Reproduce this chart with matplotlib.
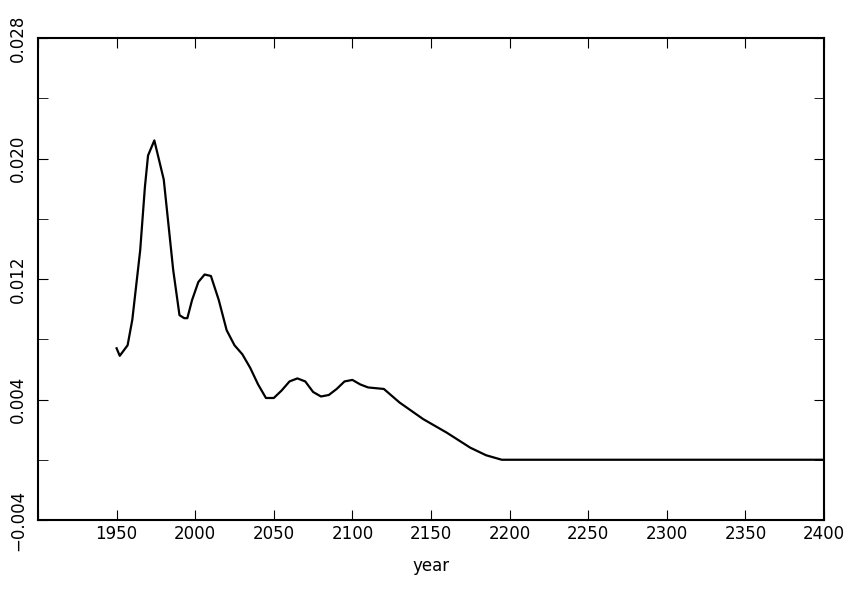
import numpy as np
import matplotlib.pyplot as plt

years = [1950, 1952, 1957, 1960, 1965, 1968, 1970, 1974, 1980, 1983, 1986, 1990, 1993, 1995,
         1998, 2002, 2006, 2010, 2015, 2020, 2025, 2030, 2035, 2040, 2045, 2050, 2055, 2060,
         2065, 2070, 2075, 2080, 2085, 2090, 2095, 2100, 2105, 2110, 2120, 2130, 2145, 2160,
         2175, 2185, 2195, 2400]
rate = [0.0074, 0.0069, 0.0076, 0.0093, 0.0139, 0.0181, 0.0202, 0.0212, 0.0186, 0.0156,
        0.0126, 0.0096, 0.0094, 0.0094, 0.0106, 0.0118, 0.0123, 0.0122, 0.0106, 0.0086,
        0.0076, 0.0070, 0.0061, 0.0050, 0.0041, 0.0041, 0.0046, 0.0052, 0.0054, 0.0052,
        0.0045, 0.0042, 0.0043, 0.0047, 0.0052, 0.0053, 0.0050, 0.0048, 0.0047, 0.0038,
        0.0027, 0.0018, 0.0008, 0.0003, 0.0, 0.0]

fig = plt.figure(figsize=(8.54, 5.90), dpi=100)
ax = fig.add_axes([38/854, 1-520/590, (824-38)/854, (520-38)/590])
ax.plot(years, rate, color='black', lw=1.6)
ax.set_xlim(1900, 2400)
ax.set_ylim(-0.004, 0.028)
ax.set_xticks(np.arange(1950, 2401, 50))
ax.set_xticks(np.arange(1900, 2401, 50), minor=False)
ax.set_xticklabels([''] + [str(y) for y in range(1950, 2401, 50)])
ax.set_yticks([-0.004, 0.004, 0.012, 0.020, 0.028])
ax.set_yticklabels(['\u22120.004', '0.004', '0.012', '0.020', '0.028'], rotation=90, va='center')
ax.set_yticks([0.0, 0.008, 0.016, 0.024], minor=True)
ax.tick_params(which='both', direction='in', top=True, right=True, length=7, labelsize=12, colors='black')
ax.tick_params(axis='y', pad=8)
for s in ax.spines.values():
    s.set_linewidth(1.5)
ax.set_xlabel('year', fontsize=12, labelpad=10)
fig.savefig('out.png', dpi=100)
